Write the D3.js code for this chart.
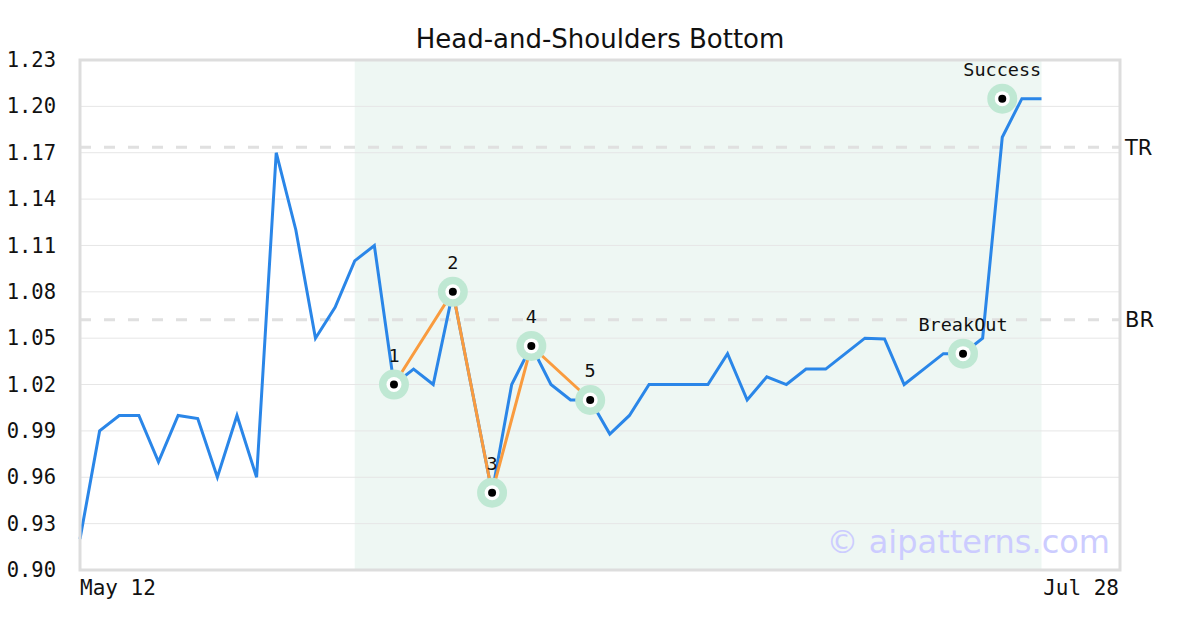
<!DOCTYPE html>
<html>
<head>
<meta charset="utf-8">
<script src="https://cdn.jsdelivr.net/npm/d3@7/dist/d3.min.js"></script>
<style>
html,body{margin:0;padding:0;background:#fff;}
svg{display:block;}
</style>
</head>
<body>
<svg id="chart" width="1200" height="630"></svg>
<script>
// ---- data ----
const title = "Head-and-Shoulders Bottom";
const xLabels = ["May 12", "Jul 28"];
const xCount = 53; // index domain of the x axis
const prices = [0.92, 0.99, 1.00, 1.00, 0.97, 1.00, 0.998, 0.96, 1.00, 0.96,
  1.17, 1.12, 1.05, 1.07, 1.10, 1.11, 1.02, 1.03, 1.02, 1.08,
  1.015, 0.95, 1.02, 1.045, 1.02, 1.01, 1.01, 0.988, 1.00, 1.02,
  1.02, 1.02, 1.02, 1.04, 1.01, 1.025, 1.02, 1.03, 1.03, 1.04,
  1.05, 1.0495, 1.02, 1.03, 1.04, 1.04, 1.05, 1.18, 1.205, 1.205];
const patternIdx = [16, 19, 21, 23, 26];
const patternVal = [1.02, 1.08, 0.95, 1.045, 1.01];
const patternLbl = ["1", "2", "3", "4", "5"];
const eventIdx = [45, 47];
const eventVal = [1.04, 1.205];
const eventLbl = ["BreakOut", "Success"];
const levelNames = ["TR", "BR"];
const levelVals = [1.1735, 1.062];
const yTicks = [0.90, 0.93, 0.96, 0.99, 1.02, 1.05, 1.08, 1.11, 1.14, 1.17, 1.20, 1.23];
const shadeRange = [14, 49];
const watermark = "© aipatterns.com";

// ---- layout ----
const svg = d3.select("#chart");
const L = 80, R = 1120, T = 60, B = 570;
const x = d3.scaleLinear().domain([0, xCount]).range([L, R]);
const y = d3.scaleLinear().domain([0.90, 1.23]).range([B, T]);
const mono = "'DejaVu Sans Mono', monospace";
const sans = "'DejaVu Sans', sans-serif";

// title
svg.append("text").attr("x", 600).attr("y", 48).attr("text-anchor", "middle")
  .attr("font-family", sans).attr("font-size", 26).attr("fill", "#111").text(title);

// shaded pattern region
svg.append("rect").attr("x", x(shadeRange[0])).attr("y", T)
  .attr("width", x(shadeRange[1]) - x(shadeRange[0])).attr("height", B - T)
  .attr("fill", "#eef7f3");

// grid
svg.append("g").selectAll("line").data(yTicks).join("line")
  .attr("x1", L).attr("x2", R).attr("y1", d => y(d)).attr("y2", d => y(d))
  .attr("stroke", "#e6e6e6").attr("stroke-width", 1);

// y axis labels
const yAxis = d3.axisLeft(y).tickValues(yTicks).tickFormat(d3.format(".2f")).tickSize(0).tickPadding(24);
const gy = svg.append("g").attr("transform", `translate(${L},0)`).call(yAxis);
gy.select(".domain").remove();
gy.selectAll("text").attr("font-family", mono).attr("font-size", 20.5).attr("fill", "#111");

// x axis labels
svg.append("text").attr("x", L).attr("y", 595).attr("font-family", mono).attr("font-size", 21)
  .attr("fill", "#111").text(xLabels[0]);
svg.append("text").attr("x", R - 1).attr("y", 595).attr("text-anchor", "end").attr("font-family", mono)
  .attr("font-size", 21).attr("fill", "#111").text(xLabels[1]);

// level lines
levelVals.forEach((v, i) => {
  svg.append("line").attr("x1", L).attr("x2", R).attr("y1", y(v)).attr("y2", y(v))
    .attr("stroke", "#e0e0e0").attr("stroke-width", 3).attr("stroke-dasharray", "11,13");
  svg.append("text").attr("x", 1125).attr("y", y(v)).attr("dy", "0.35em")
    .attr("font-family", sans).attr("font-size", 21).attr("fill", "#111").text(levelNames[i]);
});

// watermark
svg.append("text").attr("x", 1110).attr("y", 553).attr("text-anchor", "end")
  .attr("font-family", sans).attr("font-size", 32).attr("fill", "#ccccff").text(watermark);

// price line
const line = d3.line().x((d, i) => x(i)).y(d => y(d));
svg.append("path").datum(prices).attr("d", line).attr("fill", "none")
  .attr("stroke", "#2a86e8").attr("stroke-width", 3).attr("stroke-linejoin", "miter");

// pattern line
const pline = d3.line().x(d => x(d[0])).y(d => y(d[1]));
svg.append("path").datum(patternIdx.map((d, i) => [d, patternVal[i]])).attr("d", pline)
  .attr("fill", "none").attr("stroke", "#f99b3e").attr("stroke-width", 3);

// plot border
svg.append("rect").attr("x", L).attr("y", T).attr("width", R - L).attr("height", B - T)
  .attr("fill", "none").attr("stroke", "#dddddd").attr("stroke-width", 3);

// markers
function marker(ix, v, lbl) {
  const cx = x(ix), cy = y(v);
  svg.append("circle").attr("cx", cx).attr("cy", cy).attr("r", 15).attr("fill", "#bfe8d3");
  svg.append("circle").attr("cx", cx).attr("cy", cy).attr("r", 7.5).attr("fill", "#fff");
  svg.append("circle").attr("cx", cx).attr("cy", cy).attr("r", 4).attr("fill", "#000");
  svg.append("text").attr("x", cx).attr("y", cy - 23).attr("text-anchor", "middle")
    .attr("font-family", mono).attr("font-size", 18.5).attr("fill", "#111").text(lbl);
}
patternIdx.forEach((d, i) => marker(d, patternVal[i], patternLbl[i]));
eventIdx.forEach((d, i) => marker(d, eventVal[i], eventLbl[i]));
</script>
</body>
</html>
